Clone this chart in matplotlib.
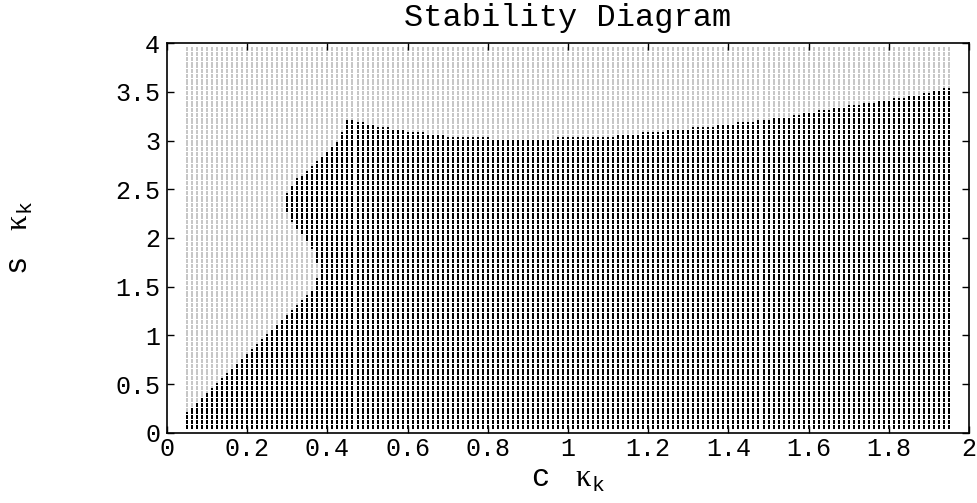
import numpy as np
import matplotlib.pyplot as plt
from matplotlib.path import Path

# sweep grid (c kappa_k, s kappa_k)
c_vals = np.arange(0.05, 1.951, 0.0125)
s_vals = np.arange(0.05, 3.951, 0.025)

# outline of the stable (black) region
edge_c = [0.04, 0.04, 0.05, 0.2, 0.3625, 0.375, 0.381,
          0.375, 0.3625, 0.35, 0.3375, 0.325, 0.3125, 0.3, 0.294,
          0.3, 0.3125, 0.325, 0.3375, 0.35, 0.3625, 0.375, 0.3875, 0.4, 0.4125, 0.425, 0.4375,
          0.45, 0.4625, 0.48, 0.5, 0.525, 0.545, 0.575, 0.618, 0.673, 0.71, 0.797,
          0.81, 0.96, 0.97, 1.09, 1.14, 1.21, 1.275, 1.335, 1.395, 1.445, 1.49,
          1.555, 1.603, 1.635, 1.673, 1.71, 1.748, 1.783, 1.82, 1.857, 1.888, 1.918, 1.945,
          1.96, 1.96]
edge_s = [-0.1, 0.17, 0.215, 0.805, 1.455, 1.6, 1.67,
          1.735, 1.89, 1.965, 2.04, 2.09, 2.16, 2.26, 2.36,
          2.47, 2.545, 2.62, 2.65, 2.70, 2.74, 2.79, 2.84, 2.895, 2.95, 3.0, 3.09,
          3.215, 3.205, 3.185, 3.165, 3.145, 3.135, 3.115, 3.085, 3.06, 3.035, 3.035,
          3.01, 3.01, 3.035, 3.035, 3.06, 3.085, 3.115, 3.135, 3.165, 3.185, 3.215,
          3.245, 3.29, 3.315, 3.335, 3.365, 3.385, 3.41, 3.435, 3.46, 3.485, 3.515, 3.535,
          3.54, -0.1]

xtick_vals = [0, 0.2, 0.4, 0.6, 0.8, 1, 1.2, 1.4, 1.6, 1.8, 2]
xtick_labels = ['0', '0.2', '0.4', '0.6', '0.8', '1', '1.2', '1.4', '1.6', '1.8', '2']
ytick_vals = [0, 0.5, 1, 1.5, 2, 2.5, 3, 3.5, 4]
ytick_labels = ['0', '0.5', '1', '1.5', '2', '2.5', '3', '3.5', '4']

plt.rcParams['font.family'] = 'Liberation Mono'
plt.rcParams['mathtext.fontset'] = 'custom'
plt.rcParams['mathtext.rm'] = 'Liberation Serif'
plt.rcParams['mathtext.tt'] = 'Liberation Mono'

C, S = np.meshgrid(c_vals, s_vals)
pts = np.column_stack([C.ravel(), S.ravel()])
stable = Path(np.column_stack([edge_c, edge_s])).contains_points(pts)

fig = plt.figure(figsize=(9.78, 5.03), dpi=100)
ax = fig.add_axes([0.1708, 0.1392, 0.820, 0.7753])

ax.scatter(pts[~stable, 0], pts[~stable, 1], s=1.8, marker='s', c='0.78', linewidths=0)
ax.scatter(pts[stable, 0], pts[stable, 1], s=1.8, marker='s', c='k', linewidths=0)

ax.set_xlim(0, 2)
ax.set_ylim(0, 4)
ax.set_xticks(xtick_vals)
ax.set_xticklabels(xtick_labels)
ax.set_yticks(ytick_vals)
ax.set_yticklabels(ytick_labels)
ax.tick_params(direction='in', length=5, width=1, top=True, right=True, labelsize=18)
ax.tick_params(axis='x', pad=3)
ax.tick_params(axis='y', pad=5)
for sp in ax.spines.values():
    sp.set_linewidth(1.2)

ax.set_title('Stability Diagram', fontsize=23, pad=12)
ax.set_xlabel(r'c $\;\mathrm{\kappa}_\mathtt{k}$', fontsize=22)
ax.set_ylabel(r's $\;\mathrm{\kappa}_\mathtt{k}$', fontsize=22)
ax.xaxis.set_label_coords(0.5, -0.08)
ax.yaxis.set_label_coords(-0.165, 0.5)

plt.savefig('out.png', dpi=100)
